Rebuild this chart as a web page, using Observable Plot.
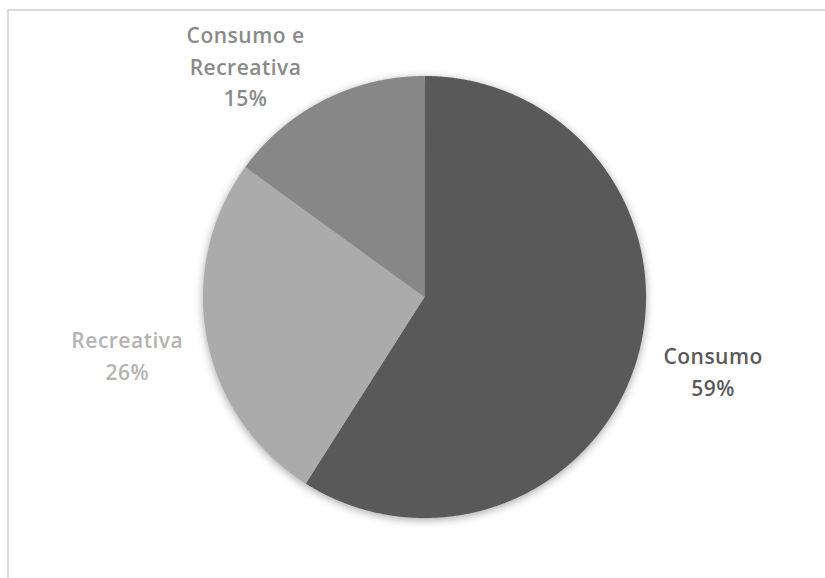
<!DOCTYPE html>
<html>
<head>
<meta charset="utf-8">
<script src="https://cdn.jsdelivr.net/npm/d3@7"></script>
<script src="https://cdn.jsdelivr.net/npm/@observablehq/plot@0.6"></script>
<style>
  html, body { margin: 0; padding: 0; background: #fff; }
  #wrap { position: relative; width: 825px; height: 578px; overflow: hidden; }
  #frame { position: absolute; left: 7px; top: 9px; width: 900px; height: 700px;
           border: 2px solid #dadada; box-sizing: border-box; pointer-events: none; }
  #chart { position: absolute; left: 0; top: 0; }
  .pie-slices { filter: drop-shadow(0px 2px 4px rgba(0,0,0,0.35)); }
</style>
</head>
<body>
<div id="wrap"><div id="chart"></div><div id="frame"></div></div>
<script>
// Data
const categories = ["Consumo", "Recreativa", "Consumo e Recreativa"];
const values = [59, 26, 15];
const labelTexts = ["Consumo\n59%", "Recreativa\n26%", "Consumo e\nRecreativa\n15%"];

// Styles
const sliceColors = ["#595959", "#ababab", "#878787"];
const labelColors = ["#5a5a5a", "#b3b3b3", "#8a8a8a"];
// label placement: radius factor and angle shift (degrees) relative to slice mid-angle
const labelRadius = [1.344, 1.366, 1.327];
const labelShift = [-2, 0, -10.5];

const rows = categories.map((c, i) => ({name: c, value: values[i]}));
const arcs = d3.pie().sort(null).value(d => d.value)(rows);

// polygon outline for each slice, in unit coordinates
const pts = [];
arcs.forEach(a => {
  const name = a.data.name;
  pts.push({name, x: 0, y: 0});
  const n = Math.max(2, Math.ceil((a.endAngle - a.startAngle) / 0.005));
  for (let k = 0; k <= n; k++) {
    const t = a.startAngle + (a.endAngle - a.startAngle) * k / n;
    pts.push({name, x: Math.sin(t), y: Math.cos(t)});
  }
  pts.push({name, x: 0, y: 0});
});

const labels = arcs.map((a, i) => {
  const mid = (a.startAngle + a.endAngle) / 2 + labelShift[i] * Math.PI / 180;
  return {
    name: a.data.name,
    text: labelTexts[i],
    color: labelColors[i],
    x: labelRadius[i] * Math.sin(mid),
    y: labelRadius[i] * Math.cos(mid)
  };
});

const plot = Plot.plot({
  width: 825,
  height: 578,
  margin: 0,
  x: {domain: [-1, 1], range: [202.5, 645.5], axis: null},
  y: {domain: [-1, 1], range: [517.5, 75.5], axis: null},
  color: {domain: categories, range: sliceColors},
  style: {background: "transparent"},
  marks: [
    Plot.line(pts, {x: "x", y: "y", z: "name", fill: "name", stroke: "none", curve: "linear", className: "pie-slices"}),
    Plot.text(labels, {
      x: "x", y: "y", text: "text", fill: "color",
      fontSize: 21, fontWeight: 600, fontFamily: "'Open Sans', sans-serif",
      lineHeight: 1.52, lineAnchor: "middle", textAnchor: "middle"
    })
  ]
});
d3.select(plot).selectAll("g[aria-label='line']").attr("class", "pie-slices");
d3.select(plot).selectAll("g[aria-label='text'] text").style("letter-spacing", "0.5px");
document.getElementById("chart").appendChild(plot);
</script>
</body>
</html>
